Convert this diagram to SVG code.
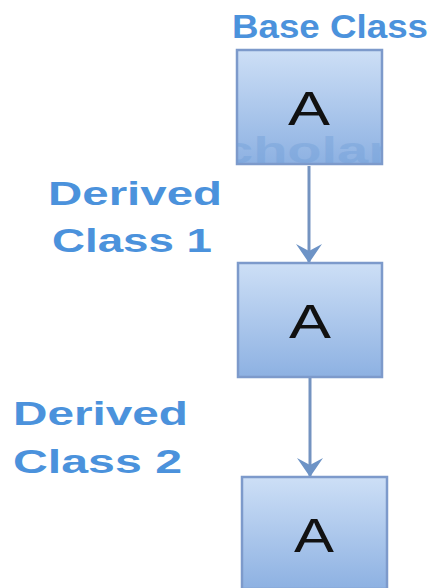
<svg xmlns="http://www.w3.org/2000/svg" width="435" height="588" viewBox="0 0 435 588">
<defs>
<linearGradient id="boxg" x1="0" y1="0" x2="0" y2="1">
<stop offset="0" stop-color="#cddff6"/>
<stop offset="1" stop-color="#8db1e2"/>
</linearGradient>
<marker id="arr" viewBox="-20 -14 22 28" markerWidth="22" markerHeight="28" refX="0" refY="0" orient="auto" markerUnits="userSpaceOnUse">
<path d="M0,0 L-19,-13 L-12,0 L-19,13 Z" fill="#6d93c6"/>
</marker>
<clipPath id="c1"><rect x="237" y="50" width="145" height="114"/></clipPath>
</defs>
<style>
.box{fill:url(#boxg);stroke:#7d9acb;stroke-width:2.5}
.lbl{font-family:"Liberation Sans",Arial,sans-serif;font-weight:bold;font-size:34px;fill:#4b92dc}
.a{font-family:"Liberation Sans",Arial,sans-serif;font-size:48px;fill:#111}
.conn{stroke:#7493c0;stroke-width:3;fill:none}
</style>
<rect width="435" height="588" fill="#fff"/>
<g id="labels">
<text class="lbl" x="232" y="38" textLength="196" lengthAdjust="spacingAndGlyphs">Base Class</text>
<text class="lbl" x="48" y="205" textLength="174" lengthAdjust="spacingAndGlyphs">Derived</text>
<text class="lbl" x="52" y="252" textLength="160" lengthAdjust="spacingAndGlyphs">Class 1</text>
<text class="lbl" x="13" y="425" textLength="175" lengthAdjust="spacingAndGlyphs">Derived</text>
<text class="lbl" x="13" y="473" textLength="169" lengthAdjust="spacingAndGlyphs">Class 2</text>
</g>
<g id="connectors">
<line class="conn" x1="309" y1="166" x2="309" y2="263" marker-end="url(#arr)"/>
<line class="conn" x1="310" y1="378" x2="310" y2="477" marker-end="url(#arr)"/>
</g>
<g id="node1">
<rect class="box" x="237" y="50" width="145" height="114"/>
<text clip-path="url(#c1)" x="222" y="163" font-family="Liberation Sans,Arial,sans-serif" font-weight="bold" font-size="36" fill="#6f9ed8" opacity="0.4" textLength="168" lengthAdjust="spacingAndGlyphs">cholar</text>
<text class="a" x="288" y="125" textLength="42" lengthAdjust="spacingAndGlyphs">A</text>
</g>
<g id="node2">
<rect class="box" x="238" y="263" width="144" height="114"/>
<text class="a" x="289" y="338" textLength="42" lengthAdjust="spacingAndGlyphs">A</text>
</g>
<g id="node3">
<rect class="box" x="242" y="477" width="145" height="112"/>
<text class="a" x="294" y="552" textLength="40" lengthAdjust="spacingAndGlyphs">A</text>
</g>
</svg>
